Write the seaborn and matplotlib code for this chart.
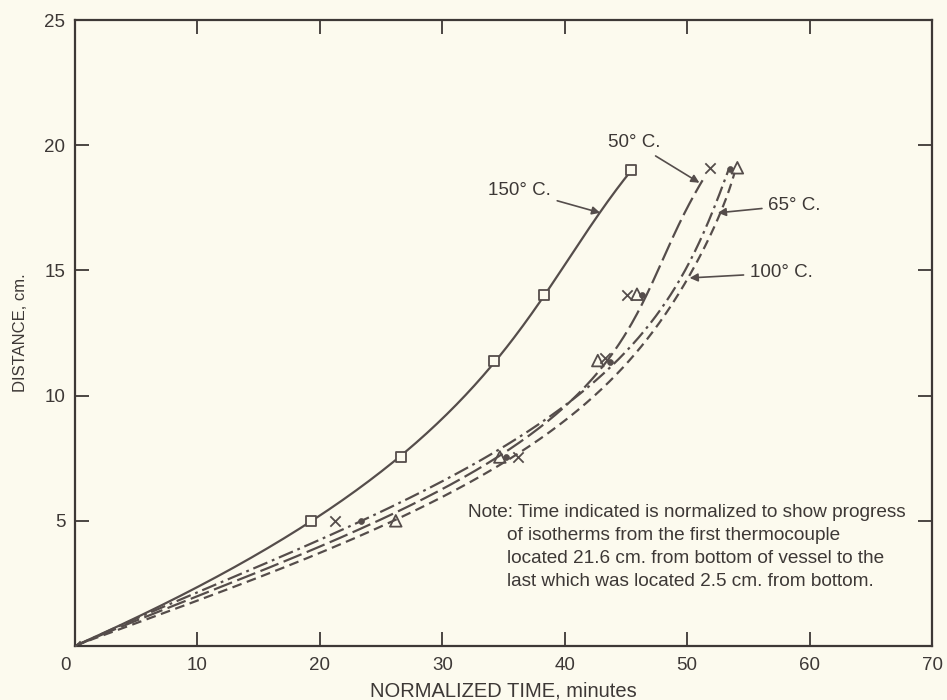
import matplotlib
matplotlib.use("Agg")
import matplotlib.pyplot as plt
import seaborn as sns
import numpy as np
import matplotlib.transforms as mtransforms

# ---------------- data ----------------
# measured points: time (min) vs distance (cm)
t150 = [0, 19.3, 26.6, 34.2, 38.3, 45.4]
d150 = [0, 5.0, 7.55, 11.4, 14.0, 19.0]

t50 = [0, 21.2, 36.2, 43.3, 45.1, 51.9]
d50 = [0, 5.0, 7.55, 11.5, 14.0, 19.1]

t65 = [23.4, 35.2, 43.7, 46.3, 53.5]
d65 = [5.0, 7.55, 11.35, 14.0, 19.05]

t100 = [26.2, 34.7, 42.7, 45.9, 54.1]
d100 = [5.0, 7.55, 11.4, 14.05, 19.1]

# traced curves
c150_t = [0, 11, 19.3, 23, 26.6, 30.5, 34.2, 38.3, 42, 45.4]
c150_d = [0, 2.64, 5.0, 6.2, 7.55, 9.3, 11.4, 14.0, 16.6, 19.0]

c50_t = [0, 8, 16.7, 26.2, 32, 38, 41.5, 43.7, 45.3, 46.5, 48.5, 50.2, 51.2]
c50_d = [0, 1.6, 3.3, 5.3, 6.9, 8.7, 10.2, 11.5, 12.8, 14.0, 15.9, 17.6, 18.6]

c65_t = [0, 8, 16.7, 23.4, 30, 38, 42, 44.7, 47.5, 49.6, 51.3, 52.4, 53.3]
c65_d = [0, 1.7, 3.56, 5.0, 6.6, 8.9, 10.3, 11.6, 13.3, 14.9, 16.4, 17.6, 19.0]

c100_t = [0, 8, 16.7, 26.2, 32, 38, 42.5, 45.7, 48.3, 50.3, 51.8, 52.9, 53.9]
c100_d = [0, 1.5, 3.04, 5.0, 6.5, 8.35, 10.0, 11.6, 13.3, 14.9, 16.3, 17.6, 18.9]

x_ticks = [0, 10, 20, 30, 40, 50, 60, 70]
y_ticks = [5, 10, 15, 20, 25]

note_lines = [
    "Note: Time indicated is normalized to show progress",
    "of isotherms from the first thermocouple",
    "located 21.6 cm. from bottom of vessel to the",
    "last which was located 2.5 cm. from bottom.",
]

# ---------------- style ----------------
BG = "#fcfaee"
INK = "#3d3836"
LINE = "#554d4b"

sns.set_style("ticks")
plt.rcParams["font.family"] = ["Liberation Sans", "DejaVu Sans"]
plt.rcParams["lines.scale_dashes"] = False

fig = plt.figure(figsize=(9.47, 7.0), dpi=100, facecolor=BG)
ax = fig.add_axes([0.0792, 0.0771, 0.9050, 0.8943])
ax.set_facecolor(BG)


def smooth(ts, ds, deg):
    """Smooth drawn curve: least-squares polynomial of time vs distance."""
    coef = np.polyfit(ds, ts, deg)
    dd = np.linspace(min(ds), max(ds), 200)
    tt = np.polyval(coef, dd)
    tt[0] = ts[0]
    return tt, dd


lw = 1.6
curves = [
    (c150_t, c150_d, 4, "-"),
    (c50_t, c50_d, 5, (0, (14, 4))),
    (c65_t, c65_d, 5, (0, (11, 3.5, 2, 3.5))),
    (c100_t, c100_d, 5, (0, (7, 4))),
]
for ct, cd, deg, ls in curves:
    tt, dd = smooth(ct, cd, deg)
    sns.lineplot(x=tt, y=dd, sort=False, estimator=None, color=LINE,
                 linewidth=lw, linestyle=ls, ax=ax)

# markers
sns.scatterplot(x=t150[1:], y=d150[1:], marker="s", s=55, facecolor=BG,
                edgecolor=LINE, linewidth=1.3, ax=ax, zorder=5)
sns.scatterplot(x=t50, y=d50, marker="x", s=55, color=LINE,
                linewidth=1.3, ax=ax, zorder=5)
sns.scatterplot(x=t65, y=d65, marker="o", s=18, color=LINE,
                edgecolor=LINE, linewidth=0.5, ax=ax, zorder=5)
sns.scatterplot(x=t100, y=d100, marker="^", s=70, facecolor="none",
                edgecolor=LINE, linewidth=1.3, ax=ax, zorder=5)

# axes
ax.set_xlim(0, 70)
ax.set_ylim(0, 25)
ax.set_xticks(x_ticks)
ax.set_yticks(y_ticks)
ax.set_xticklabels([str(v) for v in x_ticks])
ax.set_yticklabels([str(v) for v in y_ticks])
for sp in ax.spines.values():
    sp.set_visible(True)
    sp.set_color(INK)
    sp.set_linewidth(1.6)
ax.tick_params(axis="both", direction="in", length=10, width=1.3,
               colors=INK, labelsize=13.5, top=True, right=True, pad=7)
ax.tick_params(axis="x", pad=8)

# shift "0" label left
lab0 = ax.get_xticklabels()[0]
lab0.set_transform(lab0.get_transform() +
                   mtransforms.ScaledTranslation(-10 / 100, 0, fig.dpi_scale_trans))

ax.set_xlabel("NORMALIZED TIME, minutes", fontsize=14.5, color=INK, labelpad=5)
ax.set_ylabel("DISTANCE, cm.", fontsize=12, color=INK, labelpad=12)

# annotations
arrowprops = dict(arrowstyle="-|>", color=LINE, lw=1.2, mutation_scale=12,
                  shrinkA=2, shrinkB=0)
ax.annotate("150° C.", xy=(42.9, 17.3), xytext=(38.9, 18.2), ha="right",
            va="center", fontsize=13.5, color=INK, arrowprops=arrowprops)
ax.annotate("50° C.", xy=(51.0, 18.5), xytext=(47.8, 20.1), ha="right",
            va="center", fontsize=13.5, color=INK, arrowprops=arrowprops)
ax.annotate("65° C.", xy=(52.5, 17.3), xytext=(56.6, 17.6), ha="left",
            va="center", fontsize=13.5, color=INK, arrowprops=arrowprops)
ax.annotate("100° C.", xy=(50.2, 14.7), xytext=(55.1, 14.9), ha="left",
            va="center", fontsize=13.5, color=INK, arrowprops=arrowprops)

# note
note_y = [5.35, 4.43, 3.5, 2.56]
note_x = [32.1, 35.3, 35.3, 35.3]
for txt, xx, yy in zip(note_lines, note_x, note_y):
    ax.text(xx, yy, txt, ha="left", va="center", fontsize=13.7, color=INK)

fig.savefig("out.png", dpi=100, facecolor=BG)
